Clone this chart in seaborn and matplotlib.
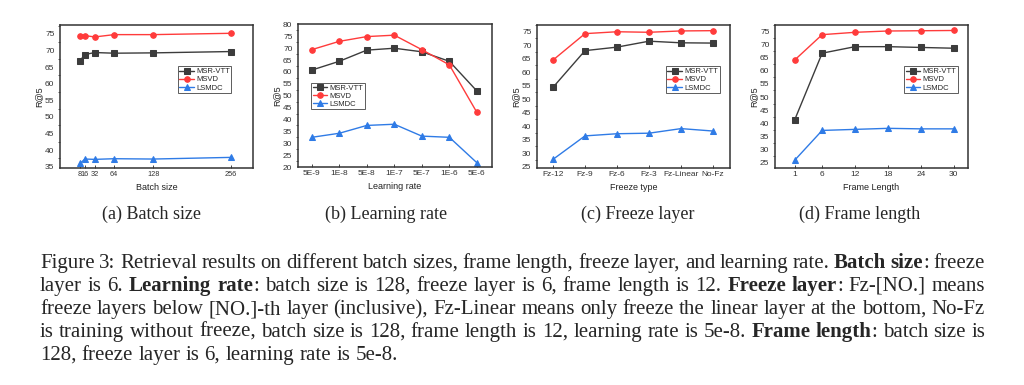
import matplotlib
matplotlib.use("Agg")
import matplotlib.pyplot as plt
import seaborn as sns
import numpy as np
from matplotlib.ticker import MultipleLocator

sns.set_theme(style="white")
plt.rcParams['font.family'] = ['Liberation Sans', 'DejaVu Sans']

## series names and colours
series = ["MSR-VTT", "MSVD", "LSMDC"]
colors = {"MSR-VTT": "#3c3c3c", "MSVD": "#ff3b3b", "LSMDC": "#2f7be6"}
markers = {"MSR-VTT": "s", "MSVD": "o", "LSMDC": "^"}

## (a) batch size
batch_sizes = [8, 16, 32, 64, 128, 256]
batch_msrvtt = [67.0, 68.8, 69.4, 69.2, 69.3, 69.7]
batch_msvd = [74.5, 74.5, 74.1, 74.8, 74.8, 75.2]
batch_lsmdc = [36.0, 37.3, 37.2, 37.4, 37.3, 37.8]

## (b) learning rate
lr_labels = ["5E-9", "1E-8", "5E-8", "1E-7", "5E-7", "1E-6", "5E-6"]
lr_msrvtt = [60.8, 64.5, 69.2, 70.0, 68.5, 64.5, 52.0]
lr_msvd = [69.4, 72.9, 74.9, 75.5, 69.4, 63.0, 43.0]
lr_lsmdc = [32.5, 34.2, 37.5, 38.0, 33.0, 32.5, 21.8]

## (c) freeze layer
fz_labels = ["Fz-12", "Fz-9", "Fz-6", "Fz-3", "Fz-Linear", "No-Fz"]
fz_msrvtt = [54.4, 68.0, 69.3, 71.5, 70.9, 70.8]
fz_msvd = [64.5, 74.3, 75.0, 74.8, 75.3, 75.4]
fz_lsmdc = [27.7, 36.4, 37.2, 37.4, 39.1, 38.2]

## (d) frame length
frames = [1, 6, 12, 18, 24, 30]
fr_msrvtt = [41.3, 66.8, 69.3, 69.3, 69.0, 68.7]
fr_msvd = [64.2, 73.9, 74.8, 75.3, 75.4, 75.5]
fr_lsmdc = [25.8, 37.2, 37.6, 38.0, 37.8, 37.8]

subcaptions = ["(a) Batch size", "(b) Learning rate", "(c) Freeze layer", "(d) Frame length"]

## caption lines, each a list of (text, bold) pieces
## a piece that does not start with a space sticks to the word before it
caption = [
    [("Figure 3: Retrieval results on different batch sizes, frame length, freeze layer, and learning rate.", False),
     (" Batch size", True), (": freeze", False)],
    [("layer is 6.", False), (" Learning rate", True),
     (": batch size is 128, freeze layer is 6, frame length is 12.", False), (" Freeze layer", True),
     (": Fz-[NO.] means", False)],
    [("freeze layers below [NO.]-th layer (inclusive), Fz-Linear means only freeze the linear layer at the bottom, No-Fz", False)],
    [("is training without freeze, batch size is 128, frame length is 12, learning rate is 5e-8.", False),
     (" Frame length", True), (": batch size is", False)],
    [("128, freeze layer is 6, learning rate is 5e-8.", False)],
]

fig = plt.figure(figsize=(10.24, 3.85), dpi=100)
W, H = 1024, 385

def make_ax(x0, x1, y0, y1):
    return fig.add_axes([x0 / W, 1 - y1 / H, (x1 - x0) / W, (y1 - y0) / H])

def style(ax, ylim, xlabel, legend_anchor):
    ax.set_ylim(*ylim)
    ax.yaxis.set_major_locator(MultipleLocator(5))
    ax.yaxis.set_minor_locator(MultipleLocator(2.5))
    ax.tick_params(axis="y", which="major", direction="out", length=2.5, width=0.6, labelsize=6, pad=1.5,
                   labelcolor="#333333")
    ax.tick_params(axis="y", which="minor", direction="out", length=1.5, width=0.5, left=True)
    ax.tick_params(axis="x", which="major", direction="in", length=2, width=0.6, labelsize=6, pad=2.5, bottom=True,
                   labelcolor="#333333")
    for s in ax.spines.values():
        s.set_color("#333333")
        s.set_linewidth(1.1)
    ax.set_xlabel(xlabel, fontsize=6.5, labelpad=3, color="#222222")
    ax.set_ylabel("R@5", fontsize=6.5, labelpad=1, color="#222222")
    leg = ax.legend(loc="upper left", bbox_to_anchor=legend_anchor, fontsize=5.5, frameon=True,
                    fancybox=False, edgecolor="#333333", borderpad=0.2, labelspacing=0.1,
                    handlelength=1.9, handletextpad=0.3, borderaxespad=0)
    leg.get_frame().set_linewidth(0.7)

def draw(ax, x, vals):
    for name, v in zip(series, vals):
        sns.lineplot(x=x, y=v, ax=ax, color=colors[name], marker=markers[name], markersize=4,
                     markeredgecolor=colors[name], linewidth=1.0, label=name, sort=False)

# (a)
ax1 = make_ax(60, 253, 25, 168)
draw(ax1, batch_sizes, [batch_msrvtt, batch_msvd, batch_lsmdc])
ax1.set_xlim(-25, 292)
ax1.set_xticks(batch_sizes)
style(ax1, (34.6, 77.7), "Batch size", (0.61, 0.71))
ax1.tick_params(axis="x", labelsize=5.3)

# (b)
ax2 = make_ax(298, 492, 24, 167)
draw(ax2, np.arange(len(lr_labels)), [lr_msrvtt, lr_msvd, lr_lsmdc])
ax2.set_xlim(-0.5, 6.55)
ax2.set_xticks(np.arange(len(lr_labels)))
ax2.set_xticklabels(lr_labels)
style(ax2, (20, 80.2), "Learning rate", (0.067, 0.59))

# (c)
ax3 = make_ax(537, 730, 25, 168)
draw(ax3, np.arange(len(fz_labels)), [fz_msrvtt, fz_msvd, fz_lsmdc])
ax3.set_xlim(-0.5, 5.53)
ax3.set_xticks(np.arange(len(fz_labels)))
ax3.set_xticklabels(fz_labels)
style(ax3, (24.5, 77.5), "Freeze type", (0.668, 0.71))

# (d)
ax4 = make_ax(775, 968, 25, 168)
draw(ax4, frames, [fr_msrvtt, fr_msvd, fr_lsmdc])
ax4.set_xlim(-2.6, 32.6)
ax4.set_xticks(frames)
style(ax4, (22.8, 77.6), "Frame Length", (0.67, 0.71))

## sub captions under each panel
serif = ['Liberation Serif', 'DejaVu Serif']
for cx, txt in zip([152, 386, 638, 860], subcaptions):
    fig.text(cx / W, 1 - 219 / H, txt, ha="center", va="baseline", fontsize=13, family=serif)

## justified caption: build word groups (a group may hold a bold and a normal part)
renderer = fig.canvas.get_renderer()
left, right = 40, 985
fsize = 15
line_base = [268, 291, 314, 337, 360]
for i, (pieces, y) in enumerate(zip(caption, line_base)):
    groups = []
    for txt, bold in pieces:
        stick = not txt.startswith(" ") and len(groups) > 0
        for j, w in enumerate(txt.split()):
            if j == 0 and stick:
                groups[-1].append((w, bold))
            else:
                groups.append([(w, bold)])
    placed = []
    for g in groups:
        parts = []
        for w, bold in g:
            t = fig.text(0, 1 - y / H, w, fontsize=fsize, family=serif,
                         fontweight="bold" if bold else "normal", va="baseline", ha="left")
            parts.append((t, t.get_window_extent(renderer).width))
        placed.append(parts)
    widths = [sum(wd for _, wd in p) for p in placed]
    if i < len(caption) - 1:
        gap = (right - left - sum(widths)) / (len(placed) - 1)
    else:
        gap = fsize * 100 / 72 * 0.25
    x = left
    for parts, wd in zip(placed, widths):
        xx = x
        for t, pw in parts:
            t.set_x(xx / W)
            xx += pw
        x += wd + gap

fig.savefig("out.png", dpi=100)
